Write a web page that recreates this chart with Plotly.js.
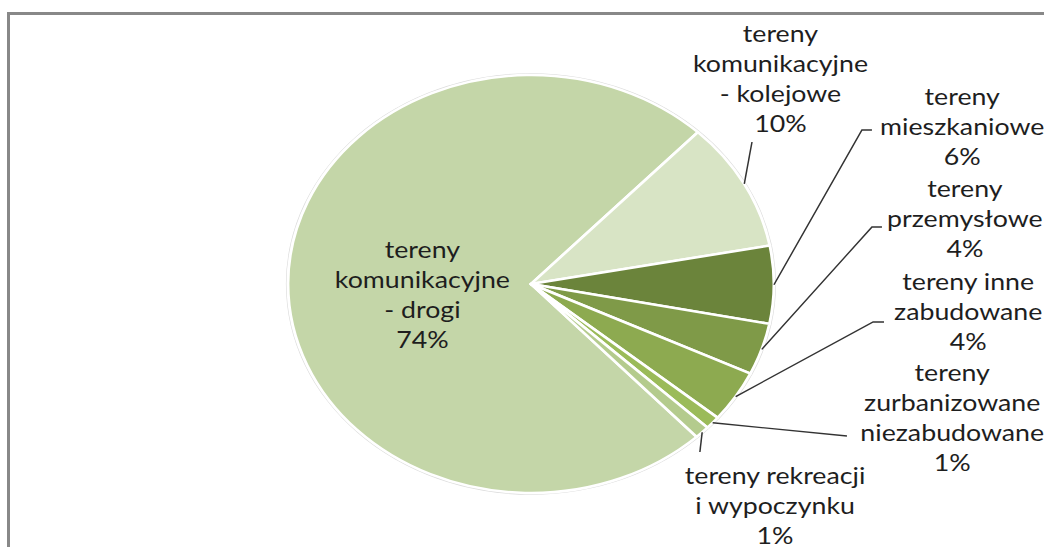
<!DOCTYPE html>
<html>
<head>
<meta charset="utf-8">
<script src="https://cdn.plot.ly/plotly-3.0.1.min.js"></script>
<style>
  html, body { margin: 0; padding: 0; background: #ffffff; overflow: hidden; }
  #wrap { position: absolute; left: 0; top: 0; width: 1044px; height: 547px; overflow: hidden; }
  #chart { position: absolute; left: 0; top: 0; width: 898px; height: 547px;
           transform: scaleX(1.1626); transform-origin: 0 0; }
  #frame { position: absolute; left: 7px; top: 12px; width: 2000px; height: 2000px;
           border-left: 3px solid #888888; border-top: 3px solid #888888; pointer-events: none; }
</style>
</head>
<body>
<div id="wrap">
  <div id="chart"></div>
  <div id="frame"></div>
</div>
<script>
// ---- data ----
const categories = [
  "tereny komunikacyjne - drogi",
  "tereny komunikacyjne - kolejowe",
  "tereny mieszkaniowe",
  "tereny przemysłowe",
  "tereny inne zabudowane",
  "tereny zurbanizowane niezabudowane",
  "tereny rekreacji i wypoczynku"
];
const labelLines = [
  "tereny<br>komunikacyjne<br>- drogi",
  "tereny<br>komunikacyjne<br>- kolejowe",
  "tereny<br>mieszkaniowe",
  "tereny<br>przemysłowe",
  "tereny inne<br>zabudowane",
  "tereny<br>zurbanizowane<br>niezabudowane",
  "tereny rekreacji<br>i wypoczynku"
];
const values = [74, 10, 6, 4, 4, 1, 1];
const colors = ["#C4D6A8", "#D8E4C5", "#6B843B", "#7F9A48", "#8DAA50", "#9BBB59", "#B4CB8D"];

// ---- layout geometry (unscaled frame, px) ----
const W = 898, H = 547;
const cx = 456.7, cy = 284, R = 209;
const rotation = 137;
// label centres and leader-line bends (px)
const labelPos = [[363, 294], [671.8, 78], [827.5, 125.5], [830, 218], [832.6, 311], [818.9, 417], [666.6, 505]];
const leaderEnds = [null, [[646.8, 142]], [[741.4, 130], [750, 130]], [[750, 227], [758.6, 227]],
                    [[751, 322], [760.4, 322]], [[728.5, 436]], [[602, 452]]];

const px = x => x / W;
const py = y => 1 - y / H;

const total = values.reduce((a, b) => a + b, 0);
const annotations = [];
const shapes = [];
let cum = rotation;
values.forEach((v, i) => {
  const span = v / total * 360;
  const mid = (cum + span / 2) * Math.PI / 180;
  cum += span;
  const pct = Math.round(v / total * 100) + "%";
  annotations.push({
    xref: "paper", yref: "paper",
    x: px(labelPos[i][0]), y: py(labelPos[i][1]),
    xanchor: "center", yanchor: "middle", align: "center",
    showarrow: false,
    text: labelLines[i] + "<br>" + pct,
    font: { family: "Lato, 'Open Sans', sans-serif", size: 23, color: "#1e1e1e" }
  });
  if (leaderEnds[i]) {
    const ax = cx + R * Math.sin(mid), ay = cy - R * Math.cos(mid);
    let d = "M " + px(ax) + " " + py(ay);
    leaderEnds[i].forEach(p => { d += " L " + px(p[0]) + " " + py(p[1]); });
    shapes.push({ type: "path", xref: "paper", yref: "paper", path: d,
                  line: { color: "#333333", width: 1.3 } });
  }
});

const Rs = R + 1.8;
const shadow = {
  type: "pie",
  values: [total],
  labels: ["outline"],
  sort: false,
  textinfo: "none",
  hoverinfo: "skip",
  marker: { colors: ["#dcdcdc"], line: { width: 0 } },
  domain: { x: [(cx - Rs) / W, (cx + Rs) / W], y: [1 - (cy + Rs) / H, 1 - (cy - Rs) / H] },
  showlegend: false
};

const trace = {
  type: "pie",
  labels: categories,
  values: values,
  sort: false,
  direction: "clockwise",
  rotation: rotation,
  textinfo: "none",
  hoverinfo: "label+percent",
  marker: { colors: colors, line: { color: "#ffffff", width: 2.5 } },
  domain: { x: [(cx - R) / W, (cx + R) / W], y: [1 - (cy + R) / H, 1 - (cy - R) / H] },
  showlegend: false
};

Plotly.newPlot("chart", [shadow, trace], {
  width: W, height: H,
  margin: { l: 0, r: 0, t: 0, b: 0 },
  paper_bgcolor: "rgba(0,0,0,0)",
  plot_bgcolor: "rgba(0,0,0,0)",
  showlegend: false,
  annotations: annotations,
  shapes: shapes
}, { staticPlot: true });
</script>
</body>
</html>
